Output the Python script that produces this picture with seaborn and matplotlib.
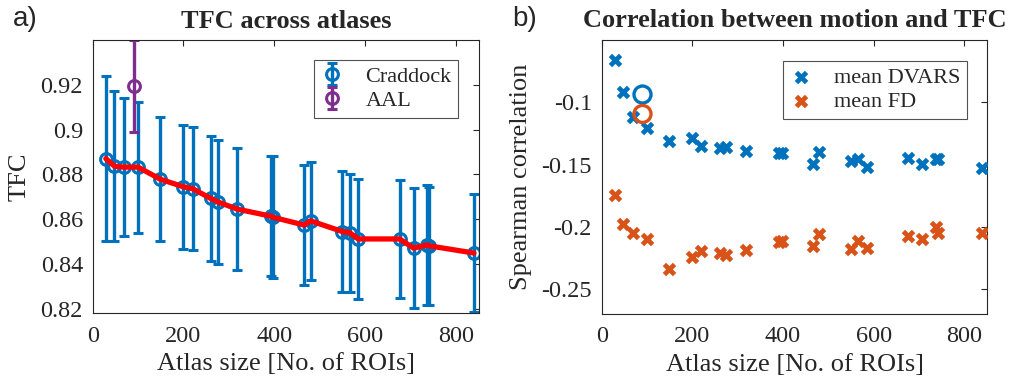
import matplotlib
matplotlib.use("Agg")
import matplotlib.pyplot as plt
import seaborn as sns

# Atlas sizes (number of ROIs) for the Craddock parcellations
atlas_size = [29, 48, 68, 100, 149, 200, 220, 260, 275, 319, 392, 397,
              466, 480, 550, 566, 585, 676, 707, 737, 742, 840]
# TFC mean and standard deviation per Craddock atlas
tfc_mean = [0.8870, 0.8836, 0.8832, 0.8832, 0.8778, 0.8744, 0.8736, 0.8692,
            0.8677, 0.8644, 0.8613, 0.8608, 0.8573, 0.8592, 0.8544, 0.8539,
            0.8511, 0.8511, 0.8470, 0.8484, 0.8480, 0.8448]
tfc_sd = [0.0367, 0.0334, 0.0309, 0.0293, 0.0278, 0.0277, 0.0275, 0.0278,
          0.0276, 0.0272, 0.0267, 0.0272, 0.0270, 0.0263, 0.0270, 0.0263,
          0.0270, 0.0263, 0.0267, 0.0270, 0.0264, 0.0265]
# AAL atlas
aal_size = [90]
aal_mean = [0.9193]
aal_sd = [0.0206]

# Spearman correlation between motion and TFC
corr_dvars = [-0.0658, -0.0914, -0.1115, -0.1206, -0.1309, -0.1287, -0.1349,
              -0.1368, -0.1357, -0.1390, -0.1411, -0.1405, -0.1492, -0.1403,
              -0.1470, -0.1452, -0.1519, -0.1444, -0.1492, -0.1456, -0.1452,
              -0.1529]
corr_fd = [-0.1747, -0.1981, -0.2053, -0.2094, -0.2335, -0.2244, -0.2196,
           -0.2210, -0.2223, -0.2188, -0.2123, -0.2118, -0.2156, -0.2056,
           -0.2182, -0.2115, -0.2169, -0.2075, -0.2097, -0.2002, -0.2048,
           -0.2048]
aal_corr_dvars = [-0.0938]
aal_corr_fd = [-0.1094]

left_yticks = [0.82, 0.84, 0.86, 0.88, 0.90, 0.92]
left_yticklabels = ["0.82", "0.84", "0.86", "0.88", "0.9", "0.92"]
right_yticks = [-0.25, -0.20, -0.15, -0.10]
right_yticklabels = ["-0.25", "-0.2", "-0.15", "-0.1"]
xticks = [0, 200, 400, 600, 800]

BLUE = "#0072BD"
ORANGE = "#D95319"
PURPLE = "#7E2F8E"

sns.set_style("white")
plt.rcParams["font.family"] = ["Liberation Serif", "DejaVu Serif"]
plt.rcParams["mathtext.default"] = "regular"

TICK_FS = 17.5
LABEL_FS = 19
TITLE_FS = 19
LEGEND_FS = 16

fig = plt.figure(figsize=(10.13, 3.90), dpi=100)
ax1 = fig.add_axes([0.0915, 0.1974, 0.3813, 0.700])
ax2 = fig.add_axes([0.594, 0.1949, 0.3807, 0.7026])


def style_axes(ax):
    for s in ax.spines.values():
        s.set_visible(True)
        s.set_color("#262626")
        s.set_linewidth(0.8)
    ax.tick_params(direction="in", length=4, width=0.8, color="#262626",
                   top=True, right=True, labelsize=TICK_FS,
                   labelcolor="#262626")
    ax.tick_params(axis="x", pad=9)
    ax.tick_params(axis="y", pad=7)
    ax.grid(False)


def boxed_legend(ax, anchor):
    h, l = ax.get_legend_handles_labels()
    leg = ax.legend(h[:2], l[:2], loc="upper right", bbox_to_anchor=anchor,
                    borderaxespad=0, fontsize=LEGEND_FS, frameon=True,
                    fancybox=False, handlelength=1.0, handletextpad=1.0,
                    borderpad=0.3, labelspacing=0.15)
    leg.get_frame().set_edgecolor("#262626")
    leg.get_frame().set_linewidth(0.8)
    return leg


# ---- a) TFC across atlases ----
ax1.errorbar(atlas_size, tfc_mean, yerr=tfc_sd, fmt="o", color=BLUE,
             mfc="none", ms=8.5, mew=2.2, elinewidth=2.4, capsize=3.6,
             capthick=2.4, label="Craddock", zorder=2)
ax1.errorbar(aal_size, aal_mean, yerr=aal_sd, fmt="o", color=PURPLE,
             mfc="none", ms=8.5, mew=2.2, elinewidth=2.4, capsize=3.6,
             capthick=2.4, label="AAL", zorder=2)
sns.lineplot(x=atlas_size, y=tfc_mean, color="red", lw=3.8, ax=ax1,
             zorder=3, legend=False)
ax1.set_xlim(0, 851)
ax1.set_ylim(0.818, 0.940)
ax1.set_xticks(xticks)
ax1.set_yticks(left_yticks)
ax1.set_yticklabels(left_yticklabels)
style_axes(ax1)
ax1.set_xlabel("Atlas size [No. of ROIs]", fontsize=LABEL_FS, labelpad=5)
ax1.set_ylabel("TFC", fontsize=LABEL_FS, labelpad=7)
ax1.set_title("TFC across atlases", fontsize=TITLE_FS, fontweight="bold", pad=9)
boxed_legend(ax1, (0.946, 0.927))

# ---- b) Correlation between motion and TFC ----
sns.scatterplot(x=atlas_size, y=corr_dvars, marker="X", color=BLUE, s=95,
                linewidth=0, ax=ax2, label="mean DVARS", zorder=3)
sns.scatterplot(x=atlas_size, y=corr_fd, marker="X", color=ORANGE, s=95,
                linewidth=0, ax=ax2, label="mean FD", zorder=3)
sns.scatterplot(x=aal_size, y=aal_corr_dvars, marker="o", facecolor="none",
                edgecolor=BLUE, s=150, linewidth=2.4, ax=ax2, zorder=3)
sns.scatterplot(x=aal_size, y=aal_corr_fd, marker="o", facecolor="none",
                edgecolor=ORANGE, s=150, linewidth=2.4, ax=ax2, zorder=3)
ax2.set_xlim(0, 851)
ax2.set_ylim(-0.27, -0.05)
ax2.set_xticks(xticks)
ax2.set_yticks(right_yticks)
ax2.set_yticklabels(right_yticklabels)
style_axes(ax2)
ax2.set_xlabel("Atlas size [No. of ROIs]", fontsize=LABEL_FS, labelpad=5)
ax2.set_ylabel("Spearman correlation", fontsize=LABEL_FS, labelpad=6.5)
ax2.set_title("Correlation between motion and TFC", fontsize=TITLE_FS,
              fontweight="bold", pad=9)
boxed_legend(ax2, (0.948, 0.924))

# panel letters
fig.text(0.013, 0.95, "a)", fontsize=20, family=["Liberation Sans", "DejaVu Sans"],
         va="center", ha="left")
fig.text(0.506, 0.95, "b)", fontsize=20, family=["Liberation Sans", "DejaVu Sans"],
         va="center", ha="left")

fig.savefig("out.png", dpi=100)
